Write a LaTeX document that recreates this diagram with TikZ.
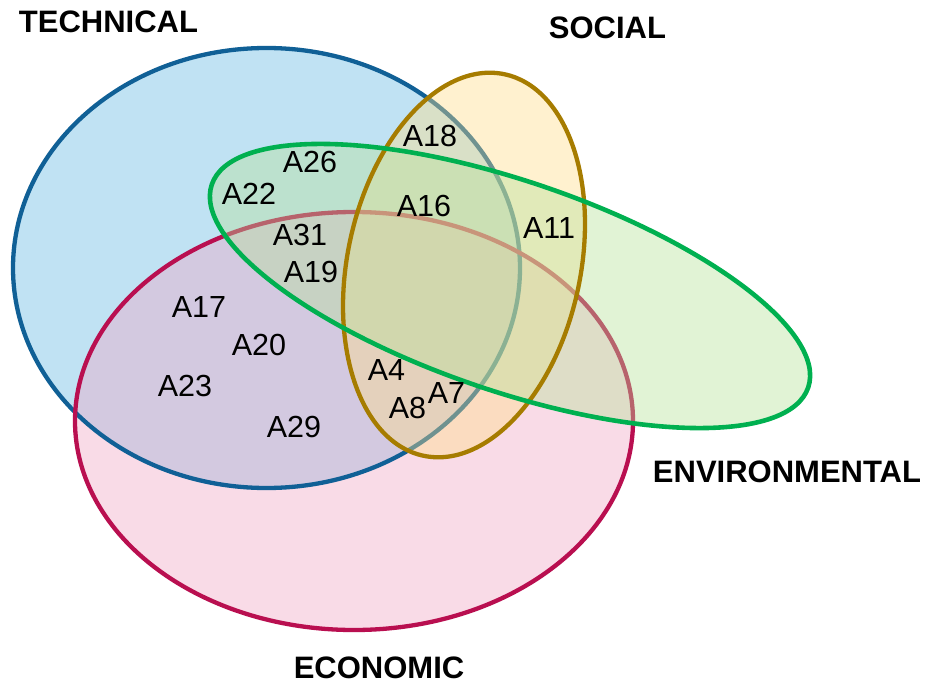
\documentclass[tikz,border=0pt]{standalone}
\usepackage{fontspec}
\setmainfont{Liberation Sans}
\definecolor{techfill}{RGB}{98,183,225}
\definecolor{techline}{RGB}{16,96,150}
\definecolor{econfill}{RGB}{240,165,197}
\definecolor{econline}{RGB}{185,15,80}
\definecolor{socfill}{RGB}{255,222,135}
\definecolor{socline}{RGB}{166,124,0}
\definecolor{envfill}{RGB}{182,225,152}
\definecolor{envline}{RGB}{0,176,80}
\begin{document}
\begin{tikzpicture}[x=1pt,y=1pt,
  lab/.style={inner sep=0pt, text=black, font=\fontsize{30.5}{36}\selectfont},
  settitle/.style={inner sep=0pt, text=black, font=\fontsize{31}{36}\selectfont\bfseries},
  setfill/.style={fill=#1, fill opacity=0.4},
  setline/.style={draw=#1, line width=4.3pt}]
\useasboundingbox (0,0) rectangle (940,-685);
\fill[white] (0,0) rectangle (940,-685);
% fills and outlines
\fill[setfill=techfill] (266.5,-268) ellipse [x radius=253.5pt, y radius=220pt];
\fill[setfill=econfill] (354,-421) ellipse [x radius=279pt, y radius=209pt];
\draw[setline=techline] (266.5,-268) ellipse [x radius=253.5pt, y radius=220pt];
\draw[setline=econline] (354,-421) ellipse [x radius=279pt, y radius=209pt];
\fill[setfill=socfill, rotate around={-12:(464,-265)}] (464,-265) ellipse [x radius=116.5pt, y radius=195pt];
\fill[setfill=envfill, rotate around={-18.8:(510,-286)}] (510,-286) ellipse [x radius=315pt, y radius=105pt];
\draw[setline=socline, rotate around={-12:(464,-265)}] (464,-265) ellipse [x radius=116.5pt, y radius=195pt];
\draw[setline=envline, line width=4.6pt, rotate around={-18.8:(510,-286)}] (510,-286) ellipse [x radius=315pt, y radius=105pt];
% titles
\node[settitle] (technical) at (108.5,-21.5) {TECHNICAL};
\node[settitle] (social) at (607.5,-27.5) {SOCIAL};
\node[settitle] (environmental) at (787,-471.7) {ENVIRONMENTAL};
\node[settitle] (economic) at (379,-668) {ECONOMIC};
% labels
\node[lab] (a18) at (430,-136) {A18};
\node[lab] (a26) at (310,-162) {A26};
\node[lab] (a22) at (249,-193.5) {A22};
\node[lab] (a16) at (424,-206) {A16};
\node[lab] (a11) at (549,-228) {A11};
\node[lab] (a31) at (300,-234.5) {A31};
\node[lab] (a19) at (311,-272) {A19};
\node[lab] (a17) at (199,-307.5) {A17};
\node[lab] (a20) at (259,-344.5) {A20};
\node[lab] (a23) at (185,-385.5) {A23};
\node[lab] (a29) at (294,-427) {A29};
\node[lab] (a4) at (386.5,-370) {A4};
\node[lab] (a8) at (407.5,-408) {A8};
\node[lab] (a7) at (446.5,-393) {A7};
\end{tikzpicture}
\end{document}
